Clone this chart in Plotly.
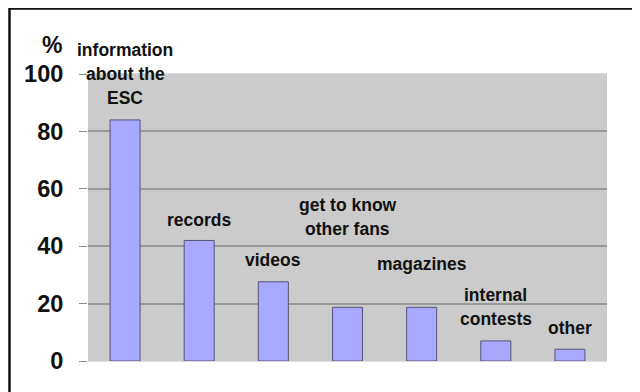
import plotly.graph_objects as go

categories = ["information about the ESC", "records", "videos", "get to know other fans",
              "magazines", "internal contests", "other"]
values = [84, 42, 27.6, 18.7, 18.7, 7, 4.1]
label_lines = [["information", "about the", "ESC"], ["records"], ["videos"],
               ["get to know", "other fans"], ["magazines"], ["internal", "contests"], ["other"]]
# y (in % units) of the first line of each label
label_top_y = [108.4, 49.1, 35.2, 54.4, 33.8, 23.0, 11.5]
y_ticks = [0, 20, 40, 60, 80, 100]

FONT = "Liberation Sans, Arial, sans-serif"

# page body adds an 8px offset; work in reference pixels minus that
OFF = 8
W, H = 640 - OFF, 392 - OFF
L, R, T, B = 88 - OFF, W - (607 - OFF), 74 - OFF, H - (361 - OFF)
pw, ph = W - L - R, H - T - B


def px2paper_x(px):
    return (px - OFF - L) / pw


def px2paper_y(py):
    return (H - B - (py - OFF)) / ph


fig = go.Figure()
fig.add_trace(go.Bar(
    x=categories, y=values, width=0.405,
    marker=dict(color="#A8A8FF", line=dict(color="#55557A", width=1)),
    showlegend=False, hoverinfo="skip",
))

annotations = []
for cat, lines, ty in zip(categories, label_lines, label_top_y):
    for i, line in enumerate(lines):
        annotations.append(dict(
            x=cat, y=ty / 100, xref="x", yref="paper", text="<b>" + line + "</b>",
            showarrow=False, yshift=-24 * i, xanchor="center", yanchor="middle",
            font=dict(family=FONT, size=17.5, color="#111"),
        ))
annotations.append(dict(
    x=px2paper_x(52), y=px2paper_y(45), xref="paper", yref="paper", text="<b>%</b>",
    showarrow=False, xanchor="center", yanchor="middle",
    font=dict(family=FONT, size=23, color="#111"),
))

shapes = [dict(
    type="rect", xref="paper", yref="paper",
    x0=px2paper_x(9.5), x1=px2paper_x(638), y0=px2paper_y(8.5), y1=px2paper_y(420),
    line=dict(color="#111", width=2.5), fillcolor="rgba(0,0,0,0)", layer="above",
)]

fig.update_layout(
    width=W, height=H,
    margin=dict(l=L, r=R, t=T, b=B, pad=0),
    paper_bgcolor="white", plot_bgcolor="#CBCBCB",
    bargap=0.6,
    annotations=annotations, shapes=shapes,
    xaxis=dict(showticklabels=False, ticks="", showgrid=False, zeroline=False,
               showline=True, linecolor="#DDDDDD", linewidth=1, mirror=True,
               range=[-0.5, len(categories) - 0.5]),
    yaxis=dict(range=[0, 100], tickvals=y_ticks, ticktext=[str(v) for v in y_ticks],
               showgrid=True, gridcolor="#9A9A9A", gridwidth=1.5, zeroline=False,
               ticks="outside", ticklen=8, tickcolor="#888888", tickwidth=1,
               ticklabelstandoff=11,
               tickfont=dict(family=FONT, size=23.5, color="#111", weight="bold"),
               showline=False),
)

fig.write_html("out.html")
